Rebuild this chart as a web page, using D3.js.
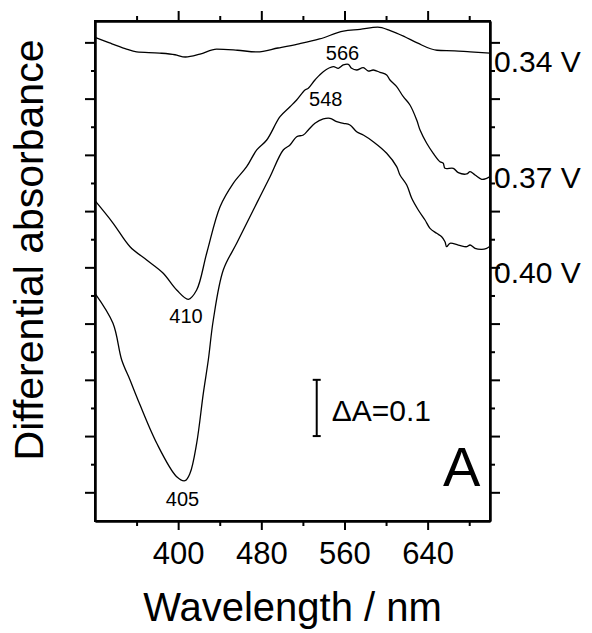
<!DOCTYPE html>
<html>
<head>
<meta charset="utf-8">
<script src="https://cdn.jsdelivr.net/npm/d3@7"></script>
<style>
  body { margin: 0; background: #fff; }
  svg text { font-family: "Liberation Sans", Arial, sans-serif; fill: #000; }
  .axis path, .axis line { stroke: #000; stroke-width: 2px; }
  .spectrum { fill: none; stroke: #000; stroke-width: 1.3px; stroke-linejoin: round; }
</style>
</head>
<body>
<div id="chart"></div>
<script>
// ==================================================
// DATA
// ==================================================

// Wavelength ticks (nm)
var xMajor = [400, 480, 560, 640];
var xMinor = [360, 440, 520, 600, 680];

// Absorbance ticks (no labels)
var yMajor = [0, 0.1, 0.2, 0.3, 0.4, 0.5, 0.6, 0.7, 0.8];
var yMinor = [0.05, 0.15, 0.25, 0.35, 0.45, 0.55, 0.65, 0.75];

// 0.34 V spectrum
var wl034 = [320, 334, 349, 360, 382, 397, 407, 421, 437, 457, 476, 496,
             515, 536, 559, 575, 592, 604, 618, 630, 649, 666, 681, 700];
var abs034 = [0.809, 0.799, 0.789, 0.783, 0.781, 0.778, 0.774, 0.779, 0.788, 0.786, 0.783, 0.790,
              0.797, 0.806, 0.820, 0.823, 0.827, 0.821, 0.810, 0.799, 0.786, 0.785, 0.783, 0.781];

// 0.37 V spectrum
var wl037 = [320, 337.3, 353.7, 369.7, 385.4, 398.6, 409.8, 417.8, 427.5, 440.3, 453.0, 465.9,
             475.6, 485.2, 498.0, 507.6, 514.0, 522.0, 525.2, 531.6, 539.6, 549.2, 554.1, 558.9,
             563.7, 566.9, 571.7, 578.1, 582.9, 587.7, 594.2, 600.6, 603.8, 610.2, 616.6, 623.0,
             629.5, 632.7, 639.1, 645.4, 651.9, 655.0, 656.7, 664.7, 669.5, 677.6, 680.8, 685.6,
             692.0, 696.8, 700];
var abs037 = [0.5185, 0.4788, 0.4367, 0.4131, 0.3899, 0.3597, 0.3432, 0.3597, 0.4255, 0.5078, 0.5494, 0.5790,
              0.6087, 0.6264, 0.6679, 0.6856, 0.6976, 0.7153, 0.7184, 0.7331, 0.7479, 0.7568, 0.7539, 0.7598,
              0.7610, 0.7539, 0.7509, 0.7550, 0.7491, 0.7509, 0.7468, 0.7420, 0.7331, 0.7212, 0.7034, 0.6887,
              0.6620, 0.6442, 0.6206, 0.6028, 0.5878, 0.5850, 0.5761, 0.5761, 0.5683, 0.5660, 0.5701, 0.5642,
              0.5565, 0.5583, 0.5612];

// 0.40 V spectrum
var wl040 = [320, 337.3, 345.7, 353.7, 360.1, 379.4, 398.6, 406.6, 411.4, 417.8, 424.2, 429.0,
             433.8, 443.4, 456.3, 472.3, 478.7, 488.4, 501.1, 507.6, 514.0, 520.4, 525.2, 531.6,
             539.6, 546.1, 552.5, 558.9, 565.3, 571.7, 578.1, 587.7, 600.6, 610.2, 613.4, 619.9,
             624.7, 631.0, 637.5, 642.3, 648.7, 653.5, 656.7, 658.3, 661.5, 669.5, 677.6, 680.8,
             685.6, 692.0, 696.8, 700];
var abs040 = [0.3538, 0.3005, 0.2352, 0.1997, 0.1700, 0.0871, 0.0277, 0.0206, 0.0338, 0.0871, 0.1760, 0.2352,
              0.3064, 0.3953, 0.4427, 0.5020, 0.5256, 0.5612, 0.6087, 0.6175, 0.6323, 0.6353, 0.6442, 0.6561,
              0.6638, 0.6650, 0.6590, 0.6561, 0.6531, 0.6412, 0.6353, 0.6234, 0.6028, 0.5790, 0.5642, 0.5464,
              0.5228, 0.5020, 0.4842, 0.4694, 0.4605, 0.4545, 0.4456, 0.4367, 0.4427, 0.4397, 0.4367, 0.4397,
              0.4339, 0.4321, 0.4339, 0.4374];

// Potential labels on the right, with the absorbance level of each baseline
var potLabels = ["0.34 V", "0.37 V", "0.40 V"];
var potLabelY = [0.748, 0.541, 0.372];

// Peak annotations
var peakText = ["566", "548", "410", "405"];
var peakWl   = [558.1, 542.0, 407.5, 404.2];
var peakAbs  = [0.769, 0.687, 0.3005, -0.024];

// Scale bar
var barWl  = 533.3;
var barAbs = [0.1, 0.2];


// ==================================================
// SETUP
// ==================================================

var W = 592, H = 633;
var margin = { top: 21, bottom: 112, left: 95, right: 102 };
var width  = W - margin.left - margin.right;
var height = H - margin.top  - margin.bottom;

var svg = d3.select("#chart")
	.append("svg")
		.attr("width",  W)
		.attr("height", H);

var visual = svg.append("g")
	.attr("transform", "translate(" + margin.left + "," + margin.top + ")");

// Scales
var x = d3.scaleLinear()
	.domain([320, 700])
	.range([0, width]);

var y = d3.scaleLinear()
	.domain([-0.051, 0.838])
	.range([height, 0]);


// ==================================================
// AXES
// ==================================================

// Bottom (labelled)
visual.append("g")
	.attr("class", "axis")
	.attr("transform", "translate(0," + height + ")")
	.call(d3.axisBottom(x).tickValues(xMinor).tickSize(5).tickSizeOuter(0).tickFormat(""));

var xAxisMajor = visual.append("g")
	.attr("class", "axis")
	.attr("transform", "translate(0," + height + ")")
	.call(d3.axisBottom(x).tickValues(xMajor).tickSize(9).tickSizeOuter(0).tickPadding(12));

xAxisMajor.selectAll("text")
	.attr("font-size", "31px")
	.attr("font-family", "Liberation Sans, Arial, sans-serif");

// Top
visual.append("g")
	.attr("class", "axis")
	.call(d3.axisTop(x).tickValues(xMinor).tickSize(5).tickSizeOuter(0).tickFormat(""));
visual.append("g")
	.attr("class", "axis")
	.call(d3.axisTop(x).tickValues(xMajor).tickSize(10).tickSizeOuter(0).tickFormat(""));

// Left
visual.append("g")
	.attr("class", "axis")
	.call(d3.axisLeft(y).tickValues(yMinor).tickSize(4).tickSizeOuter(0).tickFormat(""));
visual.append("g")
	.attr("class", "axis")
	.call(d3.axisLeft(y).tickValues(yMajor).tickSize(10).tickSizeOuter(0).tickFormat(""));

// Right
visual.append("g")
	.attr("class", "axis")
	.attr("transform", "translate(" + width + ",0)")
	.call(d3.axisRight(y).tickValues(yMinor).tickSize(5).tickSizeOuter(0).tickFormat(""));
visual.append("g")
	.attr("class", "axis")
	.attr("transform", "translate(" + width + ",0)")
	.call(d3.axisRight(y).tickValues(yMajor).tickSize(10).tickSizeOuter(0).tickFormat(""));

// Frame
visual.append("rect")
	.attr("width", width)
	.attr("height", height)
	.attr("fill", "none")
	.attr("stroke", "#000")
	.attr("stroke-width", 2);


// ==================================================
// SPECTRA
// ==================================================

function zipSeries(wl, ab) {
	return wl.map(function(w, i) { return [w, ab[i]]; });
}

var series = [
	{ pts: zipSeries(wl034, abs034), smooth: true },
	{ pts: zipSeries(wl037, abs037), smooth: false },
	{ pts: zipSeries(wl040, abs040), smooth: false }
];

var lineSmooth = d3.line()
	.x(function(d) { return x(d[0]); })
	.y(function(d) { return y(d[1]); })
	.curve(d3.curveMonotoneX);

// measured traces: pass through every point but round off the corners
var lineRaw = d3.line()
	.x(function(d) { return x(d[0]); })
	.y(function(d) { return y(d[1]); })
	.curve(d3.curveCatmullRom.alpha(0.5));

visual.selectAll(".spectrum")
	.data(series)
	.enter()
	.append("path")
		.attr("class", "spectrum")
		.attr("d", function(d) { return d.smooth ? lineSmooth(d.pts) : lineRaw(d.pts); });


// ==================================================
// LABELS
// ==================================================

// Potentials
visual.selectAll(".pot")
	.data(potLabels)
	.enter()
	.append("text")
		.attr("class", "pot")
		.attr("x", width + 4)
		.attr("y", function(d, i) { return y(potLabelY[i]); })
		.attr("font-size", "30px")
		.text(function(d) { return d; });

// Peaks
visual.selectAll(".peak")
	.data(peakText)
	.enter()
	.append("text")
		.attr("class", "peak")
		.attr("x", function(d, i) { return x(peakWl[i]); })
		.attr("y", function(d, i) { return y(peakAbs[i]); })
		.attr("font-size", "20px")
		.attr("text-anchor", "middle")
		.text(function(d) { return d; });

// Scale bar
var bx = x(barWl);
visual.append("line")
	.attr("x1", bx).attr("x2", bx)
	.attr("y1", y(barAbs[0])).attr("y2", y(barAbs[1]))
	.attr("stroke", "#000").attr("stroke-width", 2);

barAbs.forEach(function(v) {
	visual.append("line")
		.attr("x1", bx - 4).attr("x2", bx + 4)
		.attr("y1", y(v)).attr("y2", y(v))
		.attr("stroke", "#000").attr("stroke-width", 2);
});

visual.append("text")
	.attr("x", x(547.7))
	.attr("y", y(0.1273))
	.attr("font-size", "30px")
	.text("\u0394A=0.1");

// Panel letter
visual.append("text")
	.attr("x", x(654.8))
	.attr("y", y(0.0112))
	.attr("font-size", "56px")
	.text("A");

// Axis titles
svg.append("text")
	.attr("x", margin.left + width / 2)
	.attr("y", 621)
	.attr("font-size", "40px")
	.attr("text-anchor", "middle")
	.text("Wavelength / nm");

svg.append("text")
	.attr("transform", "translate(43,250) rotate(-90)")
	.attr("font-size", "41px")
	.attr("text-anchor", "middle")
	.text("Differential absorbance");
</script>
</body>
</html>
